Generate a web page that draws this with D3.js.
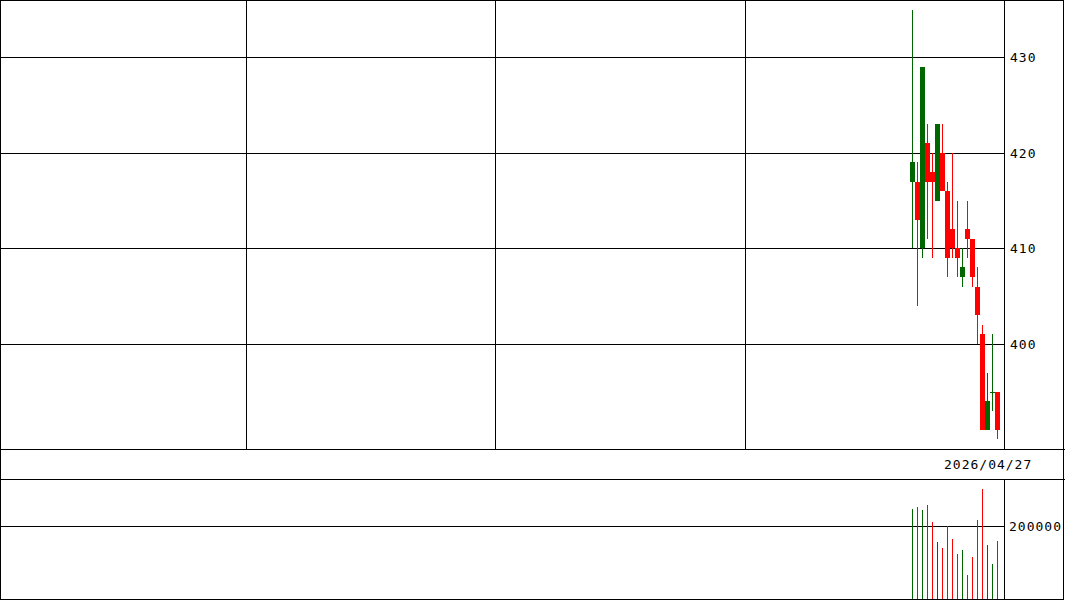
<!DOCTYPE html>
<html>
<head>
<meta charset="utf-8">
<script src="https://cdn.jsdelivr.net/npm/d3@7"></script>
<style>
  body { margin: 0; background: #fff; }
  svg text { font-family: "DejaVu Sans Mono", monospace; font-size: 13px; letter-spacing: 1px; fill: #000; }
</style>
</head>
<body>
<div id="chart"></div>
<script>
// daily candles, last 18 trading days (slot index on the x axis)
var slots  = [182,183,184,185,186,187,188,189,190,191,192,193,194,195,196,197,198,199];
var open   = [417,417,410,421,418,415,420,416,412,410,407,412,411,406,401,391,395,395];
var high   = [435,419,429,423,420,423,423,417,420,415,410,415,411,408,402,397,401,395];
var low    = [410,404,409,411,409,415,416,407,409,407,406,409,406,400,391,391,393,390];
var close  = [419,413,429,417,417,423,416,409,410,409,408,411,407,403,391,394,395,391];
var volume = [247600,253100,244800,258600,212700,157600,140300,200000,165100,123800,134800,66000,115500,217300,302600,148600,96300,159600];

var priceTicks  = [400, 410, 420, 430];
var volumeTicks = [200000];
var gridSlots   = [48.8, 98.6, 148.6];
var lastDate    = "2026/04/27";

var W = 1065, H = 600,
    plotRight = 1004,
    priceTop = 0, priceBottom = 449,
    dateBottom = 479,
    volBottom = 599;

var up = "#006600", down = "#ff0000";

var svg = d3.select("#chart")
    .append("svg")
    .attr("width", W)
    .attr("height", H)
    .attr("shape-rendering", "crispEdges");

// scales
var x = d3.scaleLinear().domain([0, 200]).range([2, 1002]);
var y = d3.scaleLinear().domain([389, 436]).range([priceBottom, priceTop]);
var yv = d3.scaleLinear().domain([0, 330000]).range([volBottom, dateBottom]);

var data = slots.map(function(s, i) {
    return { s: s, o: open[i], h: high[i], l: low[i], c: close[i], v: volume[i] };
});

// price grid
svg.append("g").selectAll("line")
    .data(priceTicks).enter().append("line")
    .attr("x1", 0).attr("x2", plotRight)
    .attr("y1", function(d) { return Math.round(y(d)) + 0.5; })
    .attr("y2", function(d) { return Math.round(y(d)) + 0.5; })
    .attr("stroke", "#000");

svg.append("g").selectAll("line")
    .data(gridSlots).enter().append("line")
    .attr("x1", function(d) { return Math.round(x(d)) + 0.5; })
    .attr("x2", function(d) { return Math.round(x(d)) + 0.5; })
    .attr("y1", priceTop).attr("y2", priceBottom)
    .attr("stroke", "#000");

// price labels
svg.append("g").selectAll("text")
    .data(priceTicks).enter().append("text")
    .attr("x", 1010)
    .attr("y", function(d) { return Math.round(y(d)) + 5; })
    .text(function(d) { return d; });

// volume grid + labels
svg.append("g").selectAll("line")
    .data(volumeTicks).enter().append("line")
    .attr("x1", 0).attr("x2", plotRight)
    .attr("y1", function(d) { return Math.round(yv(d)) + 0.5; })
    .attr("y2", function(d) { return Math.round(yv(d)) + 0.5; })
    .attr("stroke", "#000");

svg.append("g").selectAll("text")
    .data(volumeTicks).enter().append("text")
    .attr("x", 1009)
    .attr("y", function(d) { return Math.round(yv(d)) + 5; })
    .text(function(d) { return d; });

// date row
svg.append("text")
    .attr("x", 944)
    .attr("y", 469)
    .text(lastDate);

// wicks
svg.append("g").selectAll("line")
    .data(data).enter().append("line")
    .attr("x1", function(d) { return x(d.s) + 0.5; })
    .attr("x2", function(d) { return x(d.s) + 0.5; })
    .attr("y1", function(d) { return Math.round(y(d.h)); })
    .attr("y2", function(d) { return Math.round(y(d.l)); })
    .attr("stroke", function(d) { return d.c >= d.o ? up : down; });

// bodies
svg.append("g").selectAll("rect")
    .data(data).enter().append("rect")
    .attr("x", function(d) { return x(d.s) - 2; })
    .attr("width", 5)
    .attr("y", function(d) { return Math.round(y(Math.max(d.o, d.c))); })
    .attr("height", function(d) { return Math.max(1, Math.round(y(Math.min(d.o, d.c))) - Math.round(y(Math.max(d.o, d.c)))); })
    .attr("fill", function(d) { return d.c >= d.o ? up : down; });

// volume bars
svg.append("g").selectAll("line")
    .data(data).enter().append("line")
    .attr("x1", function(d) { return x(d.s) + 0.5; })
    .attr("x2", function(d) { return x(d.s) + 0.5; })
    .attr("y1", function(d) { return Math.round(yv(d.v)); })
    .attr("y2", volBottom)
    .attr("stroke", function(d) { return d.c >= d.o ? up : down; });

// frame lines
var frame = svg.append("g").attr("stroke", "#000").attr("fill", "none");
frame.append("rect").attr("x", 0.5).attr("y", 0.5).attr("width", W - 2).attr("height", H - 1);
frame.append("line").attr("x1", 0).attr("x2", W).attr("y1", priceBottom + 0.5).attr("y2", priceBottom + 0.5);
frame.append("line").attr("x1", 0).attr("x2", W).attr("y1", dateBottom + 0.5).attr("y2", dateBottom + 0.5);
frame.append("line").attr("x1", plotRight + 0.5).attr("x2", plotRight + 0.5).attr("y1", 0).attr("y2", priceBottom);
frame.append("line").attr("x1", plotRight + 0.5).attr("x2", plotRight + 0.5).attr("y1", dateBottom).attr("y2", volBottom);
</script>
</body>
</html>
